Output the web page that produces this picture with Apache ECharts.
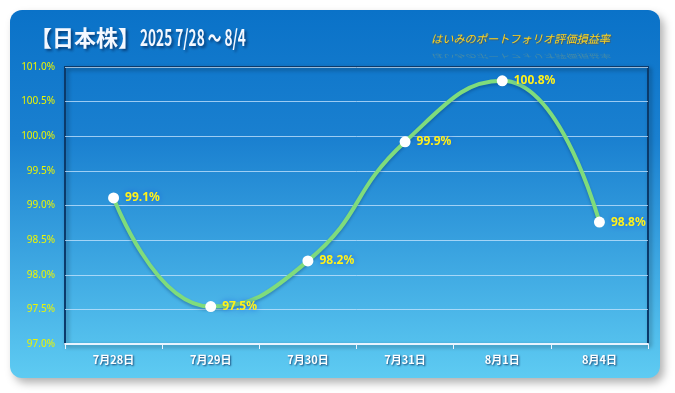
<!DOCTYPE html>
<html><head><meta charset="utf-8">
<script src="https://cdn.jsdelivr.net/npm/echarts@6/dist/echarts.min.js"></script>
<style>html,body{margin:0;padding:0;background:#fff}#c{width:675px;height:393px}</style>
</head><body><div id="c"></div>
<script>
const categories = ['7月28日','7月29日','7月30日','7月31日','8月1日','8月4日'];
const values = [99.11, 97.54, 98.20, 99.92, 100.80, 98.76];
const yMin = 97.0, yMax = 101.0, yStep = 0.5;
const titleHead = '【日本株】';
const titleDates = '2025 7/28 〜 8/4';
const subText = 'はいみのポートフォリオ評価損益率';

const chart = echarts.init(document.getElementById('c'));
const grad = new echarts.graphic.LinearGradient(0,0,0,1,[
  {offset:0,color:'#0a72c8'},{offset:0.35,color:'#1a80d0'},{offset:1,color:'#5ecbf2'}]);
const tShadow = {textShadowColor:'rgba(0,20,60,0.6)',textShadowBlur:3,textShadowOffsetX:2,textShadowOffsetY:2};
chart.setOption({
  animation:false,
  graphic:[
    {type:'rect',z:-10,shape:{x:10,y:10,width:650,height:368,r:12},
     style:{fill:grad,shadowColor:'rgba(0,0,0,0.3)',shadowBlur:8,shadowOffsetX:4,shadowOffsetY:5}},
    {type:'text',x:30,y:27,z:10,style:Object.assign({text:titleHead,fill:'#f4f8ff',
      font:'bold 22px "Noto Sans CJK JP"'},tShadow)},
    {type:'text',x:140,y:27,scaleX:0.62,z:10,style:Object.assign({text:titleDates,fill:'#f4f8ff',
      font:'bold 22px "Noto Sans CJK JP"'},tShadow)},
    {type:'text',x:431,y:33,z:10,style:{text:subText,fill:'#ffd21a',
      font:'italic 11.2px "Noto Sans CJK JP"',textShadowColor:'rgba(120,60,0,0.5)',textShadowBlur:1,textShadowOffsetX:1,textShadowOffsetY:1}},
    {type:'text',x:431,y:59,scaleY:-0.5,z:9,style:{text:subText,fill:'rgba(255,210,40,0.22)',
      font:'italic 11.2px "Noto Sans CJK JP"'}}
  ],
  grid:{left:65,right:27,top:67,bottom:49,show:true,borderColor:'#0b3a6a',borderWidth:2,
        backgroundColor:'transparent',shadowColor:'rgba(0,0,0,0.4)',shadowBlur:4,shadowOffsetX:2,shadowOffsetY:2},
  xAxis:{type:'category',data:categories,boundaryGap:true,
    axisLine:{lineStyle:{color:'#e8f4ff',width:2}},
    axisTick:{show:true,length:5,lineStyle:{color:'#e8f4ff'}},
    axisLabel:{color:'#ffffff',fontWeight:'bold',fontSize:11,margin:10,fontFamily:'"Noto Sans CJK JP"',
      textShadowColor:'rgba(0,30,80,0.8)',textShadowBlur:2,textShadowOffsetX:1,textShadowOffsetY:1}},
  yAxis:{type:'value',min:yMin,max:yMax,interval:yStep,
    axisLine:{show:false},axisTick:{show:false},
    splitLine:{lineStyle:{color:'rgba(200,230,255,0.75)',width:1}},
    axisLabel:{color:'#ecf500',fontSize:10,margin:10,fontFamily:'"Noto Sans"',formatter:v=>v.toFixed(1)+'%'}},
  series:[{type:'line',data:values,smooth:0.5,symbol:'circle',symbolSize:11,
    lineStyle:{color:'#7fdc7c',width:4,shadowColor:'rgba(0,40,80,0.3)',shadowBlur:3,shadowOffsetY:2},
    itemStyle:{color:'#ffffff',borderWidth:0},
    label:{show:true,position:'right',distance:6,color:'#fff21a',fontWeight:'bold',fontSize:12,
      fontFamily:'"Noto Sans"',formatter:p=>p.value.toFixed(1)+'%',
      textShadowColor:'#1560e0',textShadowBlur:6}}]
});
</script></body></html>
